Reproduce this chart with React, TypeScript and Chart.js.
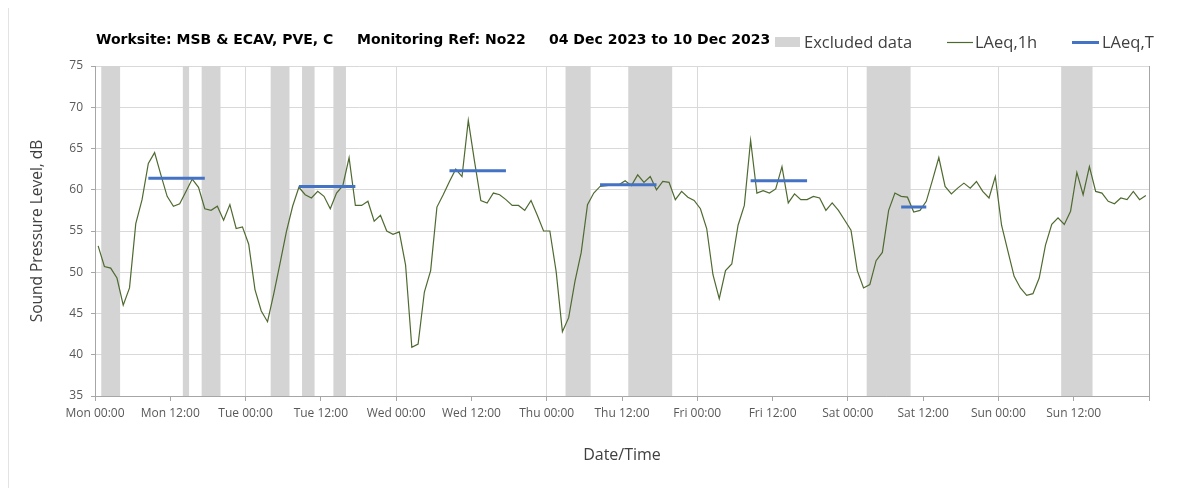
import React, { useEffect, useRef } from 'react';
import { Chart, registerables } from 'chart.js';

Chart.register(...registerables);

// X tick labels every 12 hours (0..168)
const xTickLabels = [
  'Mon 00:00', 'Mon 12:00', 'Tue 00:00', 'Tue 12:00', 'Wed 00:00', 'Wed 12:00',
  'Thu 00:00', 'Thu 12:00', 'Fri 00:00', 'Fri 12:00', 'Sat 00:00', 'Sat 12:00',
  'Sun 00:00', 'Sun 12:00', '',
];

// Hourly LAeq,1h values, Mon 00:00 .. Sun 23:00
const laeq1h = [
  53.2, 50.7, 50.5, 49.3, 46.0, 48.1, 55.9, 58.8, 63.2, 64.5,
  61.8, 59.2, 58.0, 58.3, 59.8, 61.3, 60.3, 57.7, 57.5, 58.0,
  56.3, 58.2, 55.3, 55.5, 53.4, 47.9, 45.3, 44.0, 47.4, 51.1,
  54.9, 58.0, 60.3, 59.4, 59.0, 59.8, 59.2, 57.7, 59.6, 60.5,
  63.9, 58.1, 58.1, 58.6, 56.2, 56.9, 55.0, 54.6, 54.9, 50.9,
  40.9, 41.3, 47.6, 50.2, 57.9, 59.4, 61.0, 62.5, 61.6, 68.4,
  63.4, 58.7, 58.4, 59.6, 59.4, 58.8, 58.1, 58.1, 57.5, 58.7,
  56.9, 55.0, 55.0, 50.1, 42.8, 44.5, 48.9, 52.4, 58.2, 59.6,
  60.4, 60.5, 60.6, 60.6, 61.1, 60.5, 61.8, 60.9, 61.6, 60.0,
  61.0, 60.9, 58.8, 59.8, 59.1, 58.7, 57.7, 55.3, 49.7, 46.8,
  50.2, 51.0, 55.7, 58.1, 66.0, 59.6, 59.9, 59.6, 60.1, 62.8,
  58.4, 59.5, 58.8, 58.8, 59.2, 59.0, 57.5, 58.4, 57.5, 56.3,
  55.1, 50.2, 48.1, 48.5, 51.4, 52.4, 57.5, 59.6, 59.2, 59.1,
  57.3, 57.5, 58.6, 61.2, 63.9, 60.4, 59.5, 60.2, 60.8, 60.2,
  61.0, 59.8, 59.0, 61.6, 55.7, 52.6, 49.5, 48.1, 47.2, 47.4,
  49.3, 53.3, 55.8, 56.6, 55.8, 57.4, 62.1, 59.4, 62.8, 59.8,
  59.6, 58.6, 58.3, 59.0, 58.8, 59.8, 58.8, 59.3,
];

// Excluded data periods (hours from Mon 00:00)
const excludedStart = [1, 14, 17, 28, 33, 38, 75, 85, 123, 154];
const excludedEnd = [4, 15, 20, 31, 35, 40, 79, 92, 130, 159];

// LAeq,T periods (hours from Mon 00:00) and levels
const laeqTStart = [8.5, 32.5, 56.5, 80.5, 104.5, 128.5];
const laeqTEnd = [17.5, 41.5, 65.5, 89.5, 113.5, 132.5];
const laeqTValue = [61.4, 60.4, 62.3, 60.6, 61.1, 57.9];

const titleParts = ['Worksite: MSB & ECAV, PVE, C', 'Monitoring Ref: No22', '04 Dec 2023 to 10 Dec 2023'];

const FONT = "'Open Sans', 'Noto Sans', sans-serif";
const TITLE_FONT = "'DejaVu Sans', 'Open Sans', sans-serif";
const GREEN = '#4f6a30';
const BLUE = '#4472c4';
const BAND = '#d4d4d4';

const bandsPlugin = {
  id: 'bands',
  beforeDatasetsDraw(chart: any) {
    const { ctx, chartArea, scales } = chart;
    const x = scales.x;
    ctx.save();
    ctx.fillStyle = BAND;
    for (let k = 0; k < excludedStart.length; k++) {
      const x0 = x.getPixelForValue(excludedStart[k]);
      const x1 = x.getPixelForValue(excludedEnd[k]);
      ctx.fillRect(x0, chartArea.top, x1 - x0, chartArea.bottom - chartArea.top);
    }
    ctx.restore();
  },
};

const headerPlugin = {
  id: 'header',
  afterDraw(chart: any) {
    const { ctx } = chart;
    ctx.save();
    // Title
    ctx.fillStyle = '#000000';
    ctx.font = `bold 14px ${TITLE_FONT}`;
    ctx.textBaseline = 'alphabetic';
    ctx.textAlign = 'left';
    const tx = [88, 349, 541];
    titleParts.forEach((t, i) => ctx.fillText(t, tx[i], 36));

    // Legend
    ctx.font = `16.5px ${FONT}`;
    ctx.fillStyle = BAND;
    ctx.fillRect(767, 29, 25, 10);
    ctx.fillStyle = '#404040';
    ctx.fillText('Excluded data', 796, 39.5);

    ctx.strokeStyle = GREEN;
    ctx.lineWidth = 1.2;
    ctx.beginPath();
    ctx.moveTo(939, 34.5);
    ctx.lineTo(965, 34.5);
    ctx.stroke();
    ctx.fillText('LAeq,1h', 967, 39.5);

    ctx.strokeStyle = BLUE;
    ctx.lineWidth = 3;
    ctx.beginPath();
    ctx.moveTo(1064, 34.5);
    ctx.lineTo(1091, 34.5);
    ctx.stroke();
    ctx.fillText('LAeq,T', 1094, 39.5);
    ctx.restore();
  },
};

export default function App() {
  const canvasRef = useRef<HTMLCanvasElement | null>(null);

  useEffect(() => {
    if (!canvasRef.current) return;

    const lineData = laeq1h.map((v, i) => ({ x: i + 0.5, y: v }));
    const tData: any[] = [];
    for (let k = 0; k < laeqTStart.length; k++) {
      tData.push({ x: laeqTStart[k], y: laeqTValue[k] });
      tData.push({ x: laeqTEnd[k], y: laeqTValue[k] });
      tData.push({ x: laeqTEnd[k], y: null });
    }

    const chart = new Chart(canvasRef.current, {
      type: 'line',
      data: {
        datasets: [
          {
            label: 'LAeq,T',
            data: tData,
            borderColor: BLUE,
            backgroundColor: BLUE,
            borderWidth: 3,
            pointRadius: 0,
            spanGaps: false,
            tension: 0,
          },
          {
            label: 'LAeq,1h',
            data: lineData,
            borderColor: GREEN,
            backgroundColor: GREEN,
            borderWidth: 1.2,
            pointRadius: 0,
            tension: 0,
          },
        ],
      },
      options: {
        responsive: false,
        animation: false,
        events: [],
        layout: { padding: { top: 58, right: 54, left: 0, bottom: 0 } },
        plugins: {
          legend: { display: false },
          title: { display: false },
          tooltip: { enabled: false },
        },
        scales: {
          x: {
            type: 'linear',
            min: 0,
            max: 168,
            afterFit: (s: any) => { s.height = 92; },
            ticks: {
              stepSize: 12,
              autoSkip: false,
              maxRotation: 0,
              padding: 5,
              color: '#595959',
              font: { family: FONT, size: 12 },
              callback: (value: any) => xTickLabels[Math.round(Number(value) / 12)] ?? '',
            },
            grid: {
              color: (c: any) => {
                const v = c.tick ? c.tick.value : 0;
                if (v === 168) return '#a6a6a6';
                return v % 24 === 0 ? '#d9d9d9' : 'rgba(0,0,0,0)';
              },
              tickColor: '#a6a6a6',
              tickLength: 5,
              lineWidth: 1,
            },
            border: { display: true, color: '#a6a6a6' },
            title: {
              display: true,
              text: 'Date/Time',
              color: '#404040',
              font: { family: FONT, size: 16 },
              padding: { top: 0, bottom: 23 },
            },
          },
          y: {
            min: 35,
            max: 75,
            afterFit: (s: any) => { s.width = 87; },
            ticks: {
              stepSize: 5,
              padding: 8,
              color: '#595959',
              font: { family: FONT, size: 12 },
            },
            grid: {
              color: '#d9d9d9',
              tickColor: '#a6a6a6',
              tickLength: 4,
            },
            border: { display: true, color: '#a6a6a6' },
            title: {
              display: true,
              text: 'Sound Pressure Level, dB',
              color: '#404040',
              font: { family: FONT, size: 15.5 },
              padding: { top: 20, bottom: 0 },
            },
          },
        },
      },
      plugins: [bandsPlugin, headerPlugin],
    } as any);

    return () => chart.destroy();
  }, []);

  return (
    <div style={{ position: 'relative', width: 1195, height: 480, overflow: 'hidden' }}>
      <div style={{ position: 'absolute', left: 0, top: 0, width: 1, height: 480, background: '#e3e3e3' }} />
      <canvas ref={canvasRef} width={1195} height={480} style={{ display: 'block' }} />
    </div>
  );
}
